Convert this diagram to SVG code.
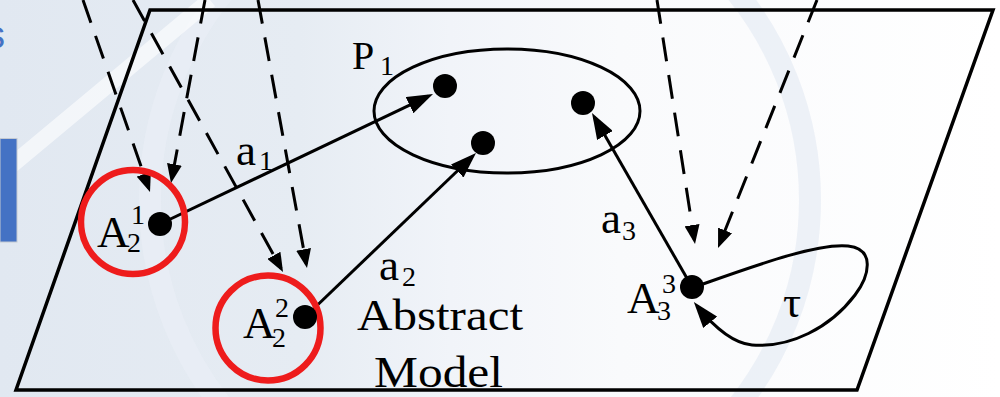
<svg xmlns="http://www.w3.org/2000/svg" width="1000" height="397" viewBox="0 0 1000 397">
  <defs>
    <linearGradient id="bg" x1="0" y1="0" x2="1" y2="0">
      <stop offset="0" stop-color="#e1e8f1"/>
      <stop offset="0.3" stop-color="#e6ecf3"/>
      <stop offset="0.45" stop-color="#f1f4f9"/>
      <stop offset="0.62" stop-color="#f9fafc"/>
      <stop offset="1" stop-color="#ffffff"/>
    </linearGradient>
    <marker id="ahSolid" viewBox="0 0 26 18" refX="21" refY="9" markerWidth="26" markerHeight="18" markerUnits="userSpaceOnUse" orient="auto">
      <path d="M0,0 L26,9 L0,18 z" fill="#000"/>
    </marker>
    <marker id="ahDash" viewBox="0 0 19 15" refX="15" refY="7.5" markerWidth="19" markerHeight="15" markerUnits="userSpaceOnUse" orient="auto">
      <path d="M0,0 L19,7.5 L0,15 z" fill="#000"/>
    </marker>
    <style>
      .txt { font-family: "Liberation Serif", "Times New Roman", serif; fill: #000; }
      .big { font-size: 45px; }
      .small { font-size: 28px; }
      .frame { fill: none; stroke: #000; stroke-width: 3.5; stroke-linejoin: miter; }
      .solid { fill: none; stroke: #000; stroke-width: 3; marker-end: url(#ahSolid); }
      .dash { fill: none; stroke: #000; stroke-width: 3; stroke-dasharray: 24 14; marker-end: url(#ahDash); }
      .ring { fill: none; stroke: #ee1c1c; stroke-width: 6.5; }
      .dot { fill: #000; }
    </style>
  </defs>

  <!-- background -->
  <rect x="0" y="0" width="1000" height="397" fill="url(#bg)"/>
  <circle cx="480" cy="200" r="330" fill="none" stroke="#e8edf5" stroke-width="22" opacity="0.8"/>
  <path d="M0,175 L210,0" stroke="#ffffff" stroke-width="16" opacity="0.6" fill="none"/>
  <rect x="0" y="138.5" width="17" height="103.5" fill="#4472c4" stroke="#c3c9d2" stroke-width="1"/>
  <text x="-14" y="48" font-family="Liberation Sans, Arial, sans-serif" font-size="38" fill="#4472c4">s</text>

  <!-- plane -->
  <g id="plane">
    <polygon class="frame" points="150,10 993,10 857,390 16,390"/>
  </g>

  <!-- connectors -->
  <g id="connectors">
    <path class="dash" d="M83,0 L148.7,188.2"/>
    <path class="dash" d="M205,0 L171.7,179.1"/>
    <path class="dash" d="M133,0 L281.1,268.5"/>
    <path class="dash" d="M258,0 L306.3,264.1"/>
    <path class="dash" d="M657,0 L694.4,240"/>
    <path class="dash" d="M817,0 L719.5,244.3"/>
    <path class="solid" d="M160,224 L428.5,96.1"/>
    <path class="solid" d="M305,317 L472.4,156.5"/>
    <path class="solid" d="M692,287 L594.5,117.3"/>
    <path class="solid" d="M703,284 C765,262 820,243 848,246 C875,249 870,275 855,295 C830,328 790,348 752,345 C730,343 710,322 697,306"/>
  </g>

  <!-- P1 set -->
  <g id="P1">
    <ellipse cx="507" cy="111" rx="133" ry="62" fill="none" stroke="#000" stroke-width="3"/>
    <circle class="dot" cx="445" cy="86" r="12"/>
    <circle class="dot" cx="483" cy="143" r="12"/>
    <circle class="dot" cx="583" cy="103" r="12"/>
    <text class="txt" x="352" y="69" font-size="40">P</text>
    <text class="txt small" x="380" y="75">1</text>
  </g>

  <!-- A2^1 -->
  <g id="A21">
    <circle class="ring" cx="133" cy="222" r="52"/>
    <circle class="dot" cx="160" cy="224" r="12"/>
    <text class="txt big" x="97" y="247">A</text>
    <text class="txt small" x="127" y="252">2</text>
    <text class="txt small" x="131" y="224">1</text>
  </g>

  <!-- A2^2 -->
  <g id="A22">
    <circle class="ring" cx="268" cy="328" r="52.5"/>
    <circle class="dot" cx="305" cy="317" r="12"/>
    <text class="txt big" x="243" y="338">A</text>
    <text class="txt small" x="272" y="347">2</text>
    <text class="txt small" x="275" y="317">2</text>
  </g>

  <!-- A3^3 -->
  <g id="A33">
    <circle class="dot" cx="692" cy="287" r="12"/>
    <text class="txt big" x="627" y="313">A</text>
    <text class="txt small" x="657" y="320">3</text>
    <text class="txt small" x="662" y="293">3</text>
  </g>

  <!-- labels -->
  <g id="labels">
    <text class="txt big" x="236" y="165">a</text>
    <text class="txt small" x="259" y="170">1</text>
    <text class="txt big" x="379" y="280">a</text>
    <text class="txt small" x="402" y="286">2</text>
    <text class="txt big" x="601" y="233">a</text>
    <text class="txt small" x="622" y="240">3</text>
    <text class="txt big" x="783" y="317">τ</text>
  </g>

  <g id="title">
    <text class="txt big" x="357" y="330" textLength="166" lengthAdjust="spacingAndGlyphs">Abstract</text>
    <text class="txt big" x="374" y="387" textLength="129" lengthAdjust="spacingAndGlyphs">Model</text>
  </g>
</svg>
